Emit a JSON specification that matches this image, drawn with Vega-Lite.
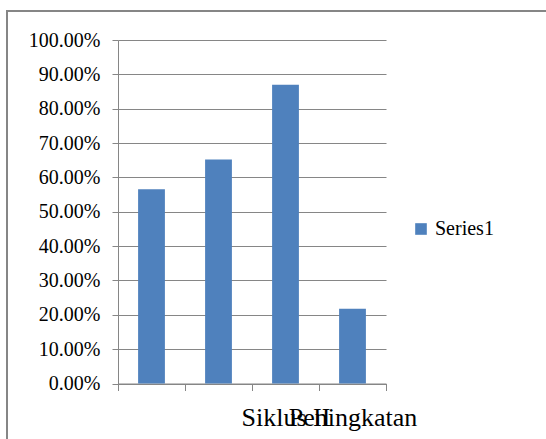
{
  "$schema": "https://vega.github.io/schema/vega-lite/v6.json",
  "autosize": "none",
  "padding": {"left": 7, "top": 11, "right": 0, "bottom": 0},
  "width": 550,
  "height": 430,
  "background": "white",
  "data": {
    "values": [
      {"kategori": "c1", "nilai": 0.5652, "seri": "Series1"},
      {"kategori": "c2", "nilai": 0.6522, "seri": "Series1"},
      {"kategori": "Siklus II", "nilai": 0.8696, "seri": "Series1"},
      {"kategori": "Peningkatan", "nilai": 0.2174, "seri": "Series1"}
    ]
  },
  "mark": {"type": "bar", "width": {"band": 0.4}},
  "encoding": {
    "x": {
      "field": "kategori",
      "type": "nominal",
      "sort": null,
      "scale": {"range": [111, 379], "paddingInner": 0, "paddingOuter": 0},
      "axis": {
        "title": null,
        "offset": -57.5,
        "labelAngle": 0,
        "labelOverlap": false,
        "labelExpr": "datum.label == 'c1' || datum.label == 'c2' ? '' : datum.label",
        "labelFont": "Liberation Serif, Times New Roman, serif",
        "labelFontSize": 26,
        "labelColor": "black",
        "labelBaseline": "alphabetic",
        "labelPadding": 34.5,
        "tickBand": "extent",
        "tickSize": 7,
        "tickColor": "#868686",
        "domainColor": "#868686",
        "grid": false
      }
    },
    "y": {
      "field": "nilai",
      "type": "quantitative",
      "scale": {"domain": [0, 1], "range": [372.5, 29], "nice": false},
      "axis": {
        "title": null,
        "offset": -111,
        "values": [0, 0.1, 0.2, 0.3, 0.4, 0.5, 0.6, 0.7, 0.8, 0.9, 1],
        "format": ".2%",
        "labelFont": "Liberation Serif, Times New Roman, serif",
        "labelFontSize": 20,
        "labelColor": "black",
        "labelPadding": 12,
        "tickSize": 6,
        "tickColor": "#868686",
        "domainColor": "#868686",
        "grid": true,
        "gridColor": "#868686",
        "gridWidth": 1.2,
        "gridOpacity": 1
      }
    },
    "color": {
      "field": "seri",
      "type": "nominal",
      "scale": {"range": ["#4F81BD"]},
      "legend": {
        "title": null,
        "orient": "none",
        "legendX": 404,
        "legendY": 208,
        "symbolType": "square",
        "symbolSize": 135,
        "symbolStrokeWidth": 0,
        "labelFont": "Liberation Serif, Times New Roman, serif",
        "labelFontSize": 20,
        "labelColor": "black",
        "labelOffset": 4,
        "padding": 0
      }
    }
  },
  "config": {
    "view": {"stroke": "#868686", "strokeWidth": 2}
  }
}
